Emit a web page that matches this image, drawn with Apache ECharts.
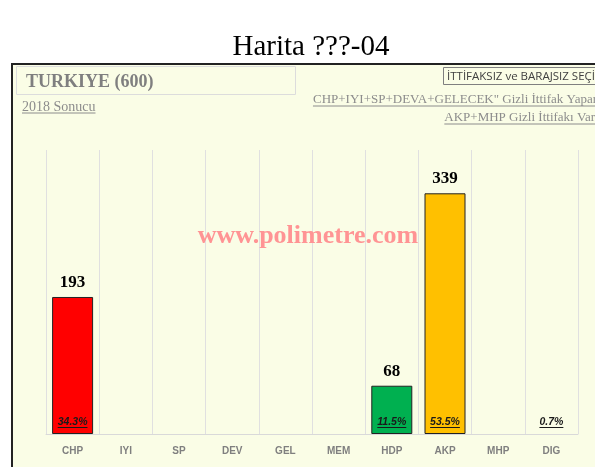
<!DOCTYPE html>
<html>
<head>
<meta charset="utf-8">
<script src="https://cdn.jsdelivr.net/npm/echarts@6/dist/echarts.min.js"></script>
<style>
html,body{margin:0;padding:0;background:#fff;}
#c{width:595px;height:467px;}
</style>
</head>
<body>
<div id="c"></div>
<script>
const categories = ['CHP','IYI','SP','DEV','GEL','MEM','HDP','AKP','MHP','DIG'];
const seats = [193, 0, 0, 0, 0, 0, 68, 339, 0, 0];
const percents = ['34.3%','','','','','','11.5%','53.5%','','0.7%'];
const barColors = ['#FF0000','#FF0000','#FF0000','#FF0000','#FF0000','#FF0000','#00B050','#FFC000','#FFC000','#FFC000'];
const titleText = 'Harita ???-04';
const regionText = 'TURKIYE (600)';
const resultText = '2018 Sonucu';
const boxText = 'İTTİFAKSIZ ve BARAJSIZ SEÇİM';
const note1 = 'CHP+IYI+SP+DEVA+GELECEK" Gizli İttifak Yapar';
const note2 = 'AKP+MHP Gizli İttifakı Var';
const watermark = 'www.polimetre.com';

const mctx = document.createElement('canvas').getContext('2d');
function tw(text, font){ mctx.font = font; return mctx.measureText(text).width; }

const chart = echarts.init(document.getElementById('c'), null, {renderer:'canvas'});

function underlined(text, x, y, font, color, align, off){
  const w = tw(text, font);
  let x1 = align === 'right' ? x - w : (align === 'center' ? x - w/2 : x);
  return {
    type:'group', silent:true,
    children:[
      {type:'text', x:x, y:y, style:{text:text, font:font, fill:color, align:align||'left', verticalAlign:'middle'}},
      {type:'line', shape:{x1:x1, y1:y+off, x2:x1+w, y2:y+off}, style:{stroke:color, lineWidth:1}}
    ]
  };
}

const pctFont = 'italic bold 10.5px "Liberation Sans", Arial, sans-serif';
const serif = '"Liberation Serif", "Times New Roman", serif';

const option = {
  backgroundColor:'#ffffff',
  animation:false,
  graphic:[
    {type:'rect', shape:{x:12, y:64, width:600, height:420}, style:{fill:'#FAFDE6', stroke:'#222', lineWidth:2}, z:-10, silent:true},
    {type:'text', x:311, y:47, style:{text:titleText, font:'29px ' + serif, fill:'#000', align:'center', verticalAlign:'middle'}},
    {type:'rect', shape:{x:16.5, y:66.5, width:279, height:28}, style:{fill:'none', stroke:'#dcdcdc', lineWidth:1}},
    {type:'text', x:26, y:82, style:{text:regionText, font:'bold 18px ' + serif, fill:'#7f7f7f', align:'left', verticalAlign:'middle'}},
    underlined(resultText, 22, 107, '14px ' + serif, '#8c8c8c', 'left', 6),
    {type:'rect', shape:{x:443.5, y:67.5, width:200, height:17}, style:{fill:'none', stroke:'#7f7f7f', lineWidth:1}},
    {type:'text', x:447, y:76.5, style:{text:boxText, font:'11.5px "Open Sans", "Liberation Sans", sans-serif', fill:'#404040', align:'left', verticalAlign:'middle'}},
    underlined(note1, 597, 100, '13px ' + serif, '#8c8c8c', 'right', 6),
    underlined(note2, 595, 118, '13px ' + serif, '#8c8c8c', 'right', 6),
    {type:'text', x:308, y:236, z:100, style:{text:watermark, font:'bold 26px ' + serif, fill:'#FF9494', align:'center', verticalAlign:'middle'}}
  ],
  grid:{left:46, right:17, top:150, bottom:33},
  xAxis:{
    type:'category', data:categories,
    axisLine:{lineStyle:{color:'#d9d9d9', width:1}},
    axisTick:{show:false},
    axisLabel:{color:'#7f7f7f', fontSize:10, fontWeight:'bold', fontFamily:'"Liberation Sans", Arial, sans-serif', margin:12},
    splitLine:{show:true, lineStyle:{color:'#e0e0e0', width:1}}
  },
  yAxis:{type:'value', min:0, max:400, show:false, splitLine:{show:false}},
  series:[
    {
      type:'bar', data:seats.map((v,i)=>(v > 0 ? {value:v, itemStyle:{color:barColors[i]}} : '-')),
      barWidth:41,
      itemStyle:{borderColor:'#222', borderWidth:1},
      label:{show:true, position:'top', distance:6, color:'#000', fontSize:17, fontWeight:'bold', fontFamily:serif,
        formatter:p=> p.value > 0 ? String(p.value) : ''}
    },
    {
      type:'custom', z:10,
      data:percents.map((p,i)=>[i]),
      renderItem:(params, api)=>{
        const idx = api.value(0);
        const t = percents[idx];
        if(!t) return null;
        const pt = api.coord([idx, 0]);
        const w = tw(t, pctFont);
        const y = pt[1] - 12;
        return {type:'group', children:[
          {type:'text', x:pt[0], y:y, style:{text:t, font:pctFont, fill:'#1a1a1a', align:'center', verticalAlign:'middle'}},
          {type:'line', shape:{x1:pt[0]-w/2, y1:y+5.5, x2:pt[0]+w/2, y2:y+5.5}, style:{stroke:'#1a1a1a', lineWidth:1}}
        ]};
      }
    }
  ]
};
chart.setOption(option);
</script>
</body>
</html>
